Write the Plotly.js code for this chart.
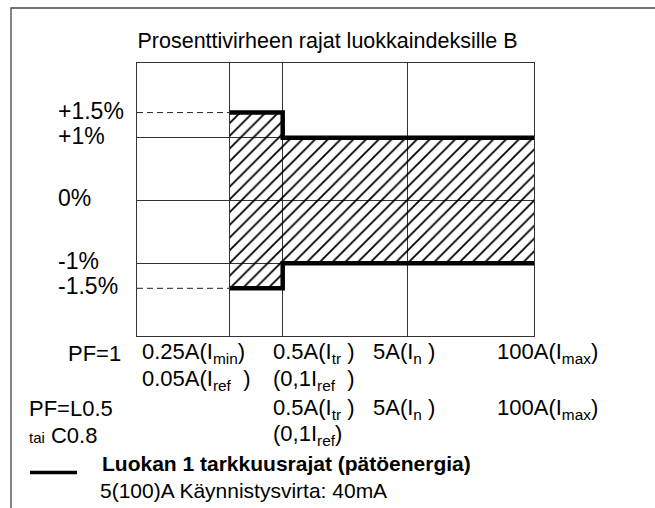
<!DOCTYPE html>
<html>
<head>
<meta charset="utf-8">
<script src="https://cdn.plot.ly/plotly-3.0.1.min.js"></script>
<style>
  html, body { margin: 0; padding: 0; background: #ffffff; }
  #chart { width: 655px; height: 508px; }
</style>
</head>
<body>
<div id="chart"></div>
<script>
// ---------------- data (schematic positions) ----------------
// Current axis: schematic position (0..100) of the boundary currents as drawn
const currentNames = ["Iref", "Imin", "Itr", "In", "Imax"];
const currentPos   = [0, 23.4, 36.7, 68.2, 100];

// Vertical grid lines (Imin, Itr, In)
const xGridVals = [23.4, 36.7, 68.2];

// Error limits (drawn position on the % axis; the ±1.5 % level is drawn at ±1.4)
const limitX     = [23.4, 36.7, 36.7, 100];
const limitUpper = [1.4, 1.4, 1, 1];
const limitLower = [-1.4, -1.4, -1, -1];

// Dashed guide lines from the axis to Imin at the ±1.5 % level
const guideX = [0, 23.4];
const guideUpper = [1.4, 1.4];
const guideLower = [-1.4, -1.4];

// Y labels
const yGridVals = [1, 0, -1];
const yTickVals = [1.4, 1, 0, -1, -1.4];
const yTickText = ["+1.5%", "+1%", "0%", "-1%", "-1.5%"];

// X label rows
const rowPF1Label  = "PF=1";
const rowPF1       = ["0.25A(I<sub>min</sub>)", "0.5A(I<sub>tr</sub>\u00a0)", "5A(I<sub>n</sub>\u00a0)", "100A(I<sub>max</sub>)"];
const rowPF1b      = ["0.05A(I<sub>ref</sub>\u00a0\u00a0)", "(0,1I<sub>ref</sub>\u00a0\u00a0)"];
const rowPF05Label = "PF=L0.5";
const rowPF05      = ["0.5A(I<sub>tr</sub>\u00a0)", "5A(I<sub>n</sub>\u00a0)", "100A(I<sub>max</sub>)"];
const rowPF05bLabel = "<span style='font-size:15px'>tai</span> C0.8";
const rowPF05b     = ["(0,1I<sub>ref</sub>)"];

const titleText   = "Prosenttivirheen rajat luokkaindeksille B";
const legendTitle = "<b>Luokan 1 tarkkuusrajat (pätöenergia)</b>";
const legendSub   = "5(100)A Käynnistysvirta: 40mA";

// ---------------- layout helpers ----------------
const W = 655, H = 508;
const M = { l: 137, r: 121, t: 63, b: 172 };
const PW = W - M.l - M.r, PH = H - M.t - M.b;
const px = x => (x - M.l) / PW;          // pixel x -> paper x
const py = y => (H - M.b - y) / PH;      // pixel y -> paper y
const FONT = '"Liberation Sans", Arial, Helvetica, sans-serif';

// ---------------- traces ----------------
const hatchX = limitX.concat(limitX.slice().reverse());
const hatchY = limitUpper.concat(limitLower.slice().reverse());

const traces = [
  {
    x: hatchX, y: hatchY, type: 'scatter', mode: 'lines',
    fill: 'toself', line: { width: 0, color: 'rgba(0,0,0,0)' },
    fillcolor: 'rgba(0,0,0,0)',
    fillpattern: { shape: '/', size: 9, solidity: 0.2, fgcolor: '#000000', bgcolor: 'rgba(0,0,0,0)' },
    hoverinfo: 'skip', showlegend: false
  },
  {
    x: guideX.concat([null]).concat(guideX),
    y: guideUpper.concat([null]).concat(guideLower),
    type: 'scatter', mode: 'lines',
    line: { color: '#222222', width: 1, dash: '6px,4px' },
    hoverinfo: 'skip', showlegend: false, connectgaps: false
  },
  {
    x: limitX, y: limitUpper, type: 'scatter', mode: 'lines',
    line: { color: '#000000', width: 4.5 }, hoverinfo: 'skip', showlegend: false, cliponaxis: false
  },
  {
    x: limitX, y: limitLower, type: 'scatter', mode: 'lines',
    line: { color: '#000000', width: 4.5 }, hoverinfo: 'skip', showlegend: false, cliponaxis: false
  }
];

// ---------------- annotations ----------------
const ann = [];
function addText(text, xPx, yPx, size, extra) {
  ann.push(Object.assign({
    text: text, xref: 'paper', yref: 'paper', x: px(xPx - 1), y: py(yPx),
    xanchor: 'left', yanchor: 'middle', showarrow: false,
    font: { family: FONT, size: size, color: '#000000' }
  }, extra || {}));
}

// y labels, positioned on the y scale
yTickVals.forEach((v, i) => {
  ann.push({
    text: yTickText[i], xref: 'paper', yref: 'y', x: px(56), y: v,
    xanchor: 'left', yanchor: 'middle', yshift: 2, showarrow: false,
    font: { family: FONT, size: 23, color: '#000000' }
  });
});

// x label rows
const colPx = [141, 272, 372, 496];
addText(rowPF1Label, 67, 353, 22);
rowPF1.forEach((t, i) => addText(t, colPx[i], 353, 22));
rowPF1b.forEach((t, i) => addText(t, colPx[i], 380, 22));
addText(rowPF05Label, 28, 408.5, 22);
rowPF05.forEach((t, i) => addText(t, colPx[i + 1], 408.5, 22));
addText(rowPF05bLabel, 28, 435, 22);
rowPF05b.forEach((t, i) => addText(t, colPx[i + 1], 435, 22));

// legend
addText(legendTitle, 101, 463.5, 21);
addText(legendSub, 99, 490.5, 21);

// ---------------- shapes ----------------
const shapes = [
  { type: 'rect', xref: 'paper', yref: 'paper', x0: px(11), x1: px(660), y0: py(512), y1: py(8),
    line: { color: '#444444', width: 1.3 }, fillcolor: 'rgba(0,0,0,0)', layer: 'below' },
  { type: 'line', xref: 'paper', yref: 'paper', x0: px(30), x1: px(77), y0: py(472.5), y1: py(472.5),
    line: { color: '#000000', width: 3.5 } }
];

const layout = {
  width: W, height: H,
  margin: M,
  paper_bgcolor: '#ffffff', plot_bgcolor: '#ffffff',
  showlegend: false,
  font: { family: FONT, size: 22, color: '#000000' },
  title: {
    text: titleText, xref: 'container', yref: 'container',
    x: 0.5, xanchor: 'center', y: 1 - 40 / H, yanchor: 'middle',
    font: { family: FONT, size: 21.5, color: '#000000' }
  },
  xaxis: {
    range: [currentPos[0], currentPos[currentPos.length - 1]],
    tickmode: 'array', tickvals: xGridVals, showticklabels: false, ticks: '',
    showgrid: true, gridcolor: '#333333', gridwidth: 1,
    zeroline: false, showline: true, mirror: true, linecolor: '#333333', linewidth: 1,
    fixedrange: true
  },
  yaxis: {
    range: [-2.16, 2.19],
    tickmode: 'array', tickvals: yGridVals, showticklabels: false, ticks: '',
    showgrid: true, gridcolor: '#333333', gridwidth: 1,
    zeroline: false, showline: true, mirror: true, linecolor: '#333333', linewidth: 1,
    fixedrange: true
  },
  annotations: ann,
  shapes: shapes
};

Plotly.newPlot('chart', traces, layout, { displayModeBar: false });
</script>
</body>
</html>
